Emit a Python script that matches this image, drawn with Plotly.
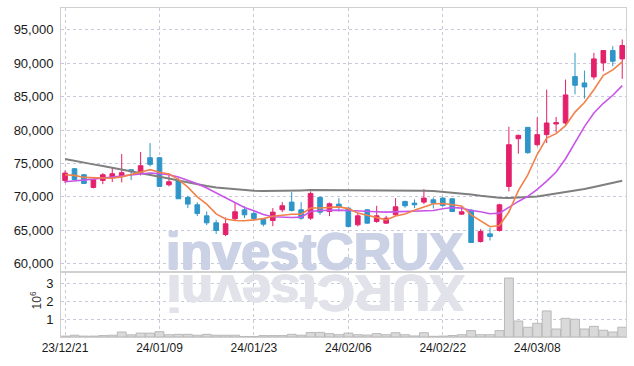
import plotly.graph_objects as go
from plotly.subplots import make_subplots

dates = ["23/12/21","23/12/22","23/12/26","23/12/27","23/12/28","24/01/02","24/01/03","24/01/04","24/01/05","24/01/08",
         "24/01/09","24/01/10","24/01/11","24/01/12","24/01/15","24/01/16","24/01/17","24/01/18","24/01/19","24/01/22",
         "24/01/23","24/01/24","24/01/25","24/01/26","24/01/29","24/01/30","24/01/31","24/02/01","24/02/02","24/02/05",
         "24/02/06","24/02/07","24/02/08","24/02/13","24/02/14","24/02/15","24/02/16","24/02/19","24/02/20","24/02/21",
         "24/02/22","24/02/23","24/02/26","24/02/27","24/02/28","24/02/29","24/03/04","24/03/05","24/03/06","24/03/07",
         "24/03/08","24/03/11","24/03/12","24/03/13","24/03/14","24/03/15","24/03/18","24/03/19","24/03/20","24/03/21"]

open_ = [72450,74200,73300,71400,72450,72950,73050,74050,73650,75850,
         75850,71800,72400,69900,68800,67150,66100,64350,66700,68050,
         67500,66600,66450,68050,69200,68050,66800,69900,67800,68900,
         68300,65800,68050,66300,66050,67300,69300,69050,69200,69550,
         69800,69700,67400,68000,63300,64450,64950,71550,78700,80400,
         77800,79300,80900,81050,88000,87050,87950,90050,91900,90650]
high = [73950,74300,73400,72600,73550,74450,76400,74100,76700,78050,
        75900,73550,72800,70150,69150,67800,66550,66900,69200,68600,
        67900,66800,68300,69200,70700,69200,70800,70050,69150,69800,
        68400,67650,68150,68650,67150,69800,69400,69600,71150,69900,
        69950,69800,68450,68150,65150,65300,68950,80500,79300,80450,
        81900,86050,81950,87550,91550,88900,91550,91900,92550,93550]
low = [72050,72500,71900,71250,71900,72200,72150,72500,73200,74550,
       71500,71550,69700,68300,67100,65750,64450,64100,66450,66800,
       66450,65550,65600,67700,67800,66550,66550,67300,67100,67800,
       65400,65550,65950,66100,65950,67150,68350,68300,68900,68250,
       68500,67700,67300,63100,63150,63450,64800,70800,76450,76450,
       77550,78050,79650,80800,85350,84700,87550,88800,89550,87650]
close = [73550,72600,72000,72550,73300,73450,73600,73750,74650,74850,
         71550,72250,69700,68900,67500,66100,64950,65950,67750,67300,
         66750,65900,67700,68650,67950,66800,70500,67700,68950,68450,
         65550,67150,66050,67150,66800,68500,68650,68800,69800,69050,
         68700,67800,67750,63150,64800,64050,68800,77800,79200,76600,
         79300,81050,81100,85250,86700,86450,90650,91900,90300,92650]

ma_orange = [73300,73200,72900,72800,72800,72780,72980,73330,73750,74060,
             73680,73410,72600,71450,69980,68890,67430,66680,66450,66410,
             66540,66730,67080,67260,67390,67400,68320,68320,68380,68480,
             68230,67560,67230,66870,66540,67130,67430,67980,68510,68960,
             69000,68830,68620,67290,66440,65510,65710,67720,70930,73290,
             76340,78790,79450,80660,82680,84110,86030,88190,89000,90190]
ma_magenta = [72250,72350,72500,72650,72800,72950,73100,73300,73450,73550,
              73450,73300,72950,72450,71950,71300,70550,69800,69050,68400,
              67900,67350,67000,66900,66900,66950,67800,67950,68000,68000,
              67950,67850,67800,67750,67700,67750,67800,67800,67850,67950,
              68200,68400,68300,67950,67750,67450,67550,68450,69300,70050,
              71100,72350,73700,75700,78000,80500,82550,84000,85200,86650]
ma_gray = [75650,75350,75100,74850,74600,74350,74100,73850,73600,73350,
           73050,72750,72450,72150,71850,71600,71400,71250,71100,71000,
           70900,70850,70850,70850,70900,70950,71000,71000,71000,71000,
           71000,71000,71000,71000,70950,70950,70950,70950,70900,70850,
           70750,70650,70550,70350,70150,69950,69850,69800,69850,69950,
           70050,70250,70450,70650,70900,71150,71450,71750,72050,72400]

volume_m = [0.05,0.10,0.05,0.05,0.08,0.10,0.28,0.12,0.22,0.22,
            0.30,0.13,0.15,0.15,0.10,0.15,0.10,0.10,0.10,0.03,
            0.03,0.08,0.08,0.08,0.15,0.10,0.25,0.26,0.19,0.13,
            0.22,0.13,0.11,0.19,0.13,0.24,0.13,0.06,0.24,0.04,
            0.05,0.08,0.13,0.36,0.13,0.13,0.36,3.32,0.90,0.55,
            0.77,1.47,0.45,1.05,1.00,0.45,0.60,0.38,0.28,0.55]

tick_dates = ["23/12/21","24/01/09","24/01/23","24/02/06","24/02/22","24/03/08"]
price_ticks = [60000,65000,70000,75000,80000,85000,90000,95000]
vol_ticks = [1,2,3]

UP = "#e3216b"
DOWN = "#2f95c9"
GRID = "#c6cada"
FRAME = "#d0d0d0"
FONT = "Liberation Sans, Arial, sans-serif"

fig = make_subplots(rows=2, cols=1, shared_xaxes=True, vertical_spacing=0,
                    row_heights=[0.802, 0.198])

fig.add_trace(go.Candlestick(x=dates, open=open_, high=high, low=low, close=close,
                             increasing=dict(line=dict(color=UP, width=1), fillcolor=UP),
                             decreasing=dict(line=dict(color=DOWN, width=1), fillcolor=DOWN),
                             showlegend=False), row=1, col=1)
fig.add_trace(go.Scatter(x=dates, y=ma_gray, mode="lines", line=dict(color="#7f7f7f", width=2),
                         showlegend=False), row=1, col=1)
fig.add_trace(go.Scatter(x=dates, y=ma_magenta, mode="lines", line=dict(color="#c955e8", width=1.6),
                         showlegend=False), row=1, col=1)
fig.add_trace(go.Scatter(x=dates, y=ma_orange, mode="lines", line=dict(color="#f0824a", width=1.6),
                         showlegend=False), row=1, col=1)
fig.add_trace(go.Bar(x=dates, y=[v * 1e6 for v in volume_m],
                     marker=dict(color="#d9d9d9", line=dict(color="#b9b9b9", width=1)),
                     showlegend=False), row=2, col=1)

tick_font = dict(family=FONT, size=13, color="#1a1a1a")
xcommon = dict(type="category", range=[-0.43, 59.4], showgrid=True, gridcolor=GRID, griddash="dot",
               gridwidth=1, tickvals=tick_dates, ticktext=tick_dates, showline=True, mirror=True,
               linecolor=FRAME, linewidth=1, zeroline=False, ticks="")
fig.update_xaxes(**xcommon)
fig.update_xaxes(showticklabels=False, rangeslider=dict(visible=False), row=1, col=1)
fig.update_xaxes(showticklabels=True, tickfont=dict(family=FONT, size=12, color="#1a1a1a"), row=2, col=1)

fig.update_yaxes(range=[58755, 98270], tickvals=price_ticks, tickformat=",d", showgrid=True, gridcolor=GRID,
                 griddash="dot", showline=True, mirror=True, linecolor=FRAME, zeroline=False,
                 tickfont=tick_font, ticks="outside", ticklen=4, tickcolor="rgba(0,0,0,0)", row=1, col=1)
fig.update_yaxes(range=[0, 3.67e6], tickvals=[v * 1e6 for v in vol_ticks], ticktext=[str(v) for v in vol_ticks],
                 showgrid=True, gridcolor=GRID, griddash="dot", showline=True, mirror=True, linecolor=FRAME,
                 zeroline=False, tickfont=tick_font, ticks="outside", ticklen=4, tickcolor="rgba(0,0,0,0)",
                 row=2, col=1)

# watermark with its reflection
wm_main = "rgb(203,210,230)"
wm_refl = "rgb(226,226,234)"
fig.add_annotation(text="investCRUX", xref="paper", yref="paper", x=0.45, y=0.198, xanchor="center",
                   yanchor="bottom", showarrow=False, yshift=-10,
                   font=dict(family=FONT, size=52, color=wm_main, weight="bold",
                             shadow="1px 0 0 %s, -1px 0 0 %s, 0 1px 0 %s" % (wm_main, wm_main, wm_main)))
fig.add_annotation(text="XURCtsevni", xref="paper", yref="paper", x=0.45, y=0.198, xanchor="center",
                   yanchor="top", showarrow=False, textangle=180, yshift=10,
                   font=dict(family=FONT, size=52, color=wm_refl, weight="bold",
                             shadow="1px 0 0 %s, -1px 0 0 %s" % (wm_refl, wm_refl)))
fig.add_annotation(text="10<sup>6</sup>", xref="paper", yref="paper", x=-0.045, y=0.11, xanchor="center",
                   yanchor="middle", showarrow=False, textangle=-90,
                   font=dict(family=FONT, size=12, color="#333"))

fig.update_layout(width=634, height=366, margin=dict(l=61, r=8, t=8, b=29),
                  plot_bgcolor="white", paper_bgcolor="white", bargap=0.06, showlegend=False)

fig.write_html("out.html")
